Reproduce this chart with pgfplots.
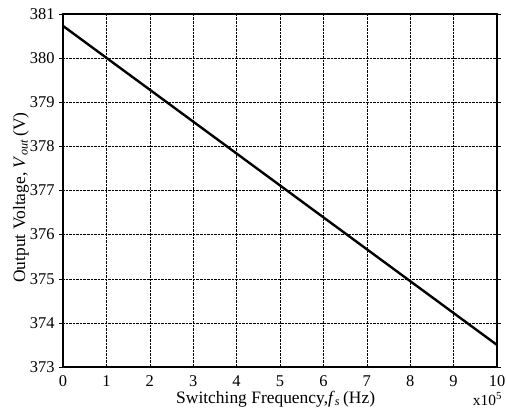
\documentclass[border=0pt]{standalone}
\usepackage{fontspec}
\setmainfont{Liberation Serif}
\usepackage{pgfplots}
\pgfplotsset{compat=1.18}

\begin{document}
\begin{tikzpicture}
\begin{axis}[
    at={(0,0)}, anchor=south west,
    width=434bp, height=353bp,
    scale only axis,
    clip=false,
    xmin=0, xmax=10, ymin=373, ymax=381,
    xtick={0,1,...,10}, ytick={373,374,...,381},
    grid=major,
    major grid style={black, densely dotted, line width=0.5pt},
    axis line style={black, line width=1.3pt},
    tick align=outside, major tick length=4bp,
    tick style={black, line width=0.5pt},
    xtick style={draw=none},
    font=\fontsize{16.5}{18}\selectfont,
    /pgf/number format/assume math mode=true,
    yticklabel style={/pgf/number format/1000 sep={}, xshift=-1bp},
    xticklabel style={yshift=-1bp},
    xlabel={Switching Frequency,\textit{f}\textsubscript{\textit{s}}\,(Hz)},
    xlabel style={at={(axis description cs:0.49,0)}, anchor=base, yshift=-36bp,
                  font=\fontsize{17.5}{19}\selectfont},
    ylabel={Output Voltage, \textit{V}\textsubscript{\textit{out}}\,(V)},
    ylabel style={at={(axis description cs:0,0.48)}, anchor=center, yshift=42bp,
                  font=\fontsize{17.5}{19}\selectfont},
]
\addplot[black, line width=2.4pt] coordinates {(0,380.73) (10,373.5)};
\node[anchor=base, font=\fontsize{15.5}{17}\selectfont] at (rel axis cs:0.978,0) [yshift=-38bp] {x10\textsuperscript{5}};
\end{axis}
\pgfresetboundingbox
\path (-63bp,-45bp) rectangle (443bp,367bp);
\end{tikzpicture}
\end{document}
